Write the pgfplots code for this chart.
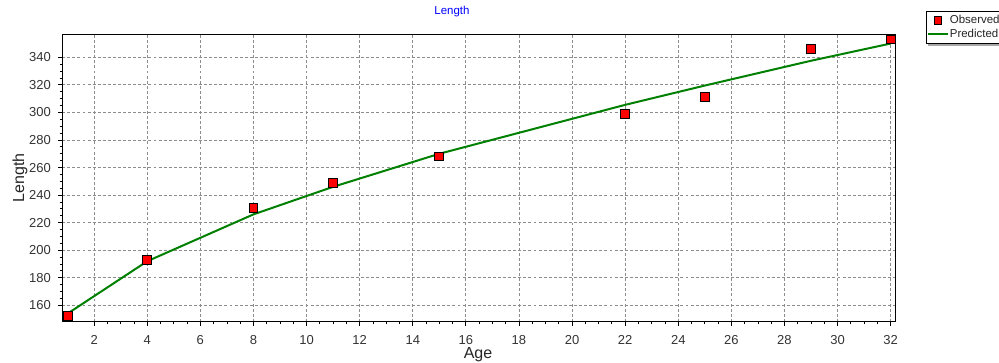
\documentclass[border=0pt]{standalone}
\usepackage{fontspec}
\setmainfont{Liberation Sans}
\usepackage{pgfplots}
\pgfplotsset{compat=1.18}
\usetikzlibrary{backgrounds}
\definecolor{obsred}{HTML}{FF0000}
\definecolor{predgreen}{HTML}{008000}
\begin{document}
\begin{tikzpicture}
\path[use as bounding box] (-46.725pt,-30.225pt) rectangle ++(749.25pt,271.5pt);
\begin{axis}[
  at={(0,0)}, anchor=south west,
  scale only axis, width=625.05pt, height=215.55pt,
  xmin=0.8, xmax=32.19, ymin=148.1, ymax=356.7,
  xtick={2,4,...,32}, ytick={160,180,...,340},
  minor x tick num=3, minor y tick num=3,
  xtick pos=bottom, ytick pos=left,
  tick align=outside,
  major tick length=3pt, minor tick length=1.8pt,
  every tick/.style={black, line width=0.6pt},
  axis line style={black, line width=1.1pt},
  grid=major,
  major grid style={gray!90, dashed, line width=0.6pt, dash pattern=on 2.2pt off 1.6pt},
  /pgf/number format/assume math mode=true,
  tick label style={font=\fontsize{9.75}{11}\selectfont, text=black!80},
  xticklabel style={yshift=-4pt},
  yticklabel style={xshift=-2pt},
  title={Length},
  title style={at={(axis description cs:0.4676,1.0498)}, anchor=center, font=\fontsize{8.6}{10}\selectfont, text=blue},
  xlabel={Age},
  ylabel={Length},
  every axis x label/.style={at={(axis description cs:0.4988,-0.116)}, anchor=center, font=\fontsize{12}{14}\selectfont, text=black!85},
  every axis y label/.style={at={(axis description cs:-0.0508,0.5)}, rotate=90, anchor=center, font=\fontsize{12}{14}\selectfont, text=black!85},
  legend style={name=leg, at={(axis description cs:1.0365,1.081)}, anchor=north west,
    draw=black, fill=white, line width=0.6pt,
    font=\fontsize{8.6}{10}\selectfont, text=black!85,
    row sep=-1.5pt, inner xsep=0.5pt, inner ysep=1pt,
    nodes={inner xsep=1pt}},
  legend cell align=left,
  legend image post style={scale=0.85},
]
\addplot[only marks, mark=square*, mark size=3.3pt, mark options={fill=obsred, draw=black, line width=0.7pt}]
  coordinates {(1,152) (4,193) (8,230.5) (11,249) (15,268) (22,299) (25,311) (29,346) (32,353)};
\addlegendentry{Observed}
\addplot[predgreen, line width=1.5pt, mark=none]
  coordinates {(1,154) (4,192) (8,226) (11,246) (15,270) (22,305.5) (25,319.5) (29,337.5) (32,350)};
\addlegendentry{Predicted}
\end{axis}
\begin{pgfonlayer}{background}
\fill[gray!70] ([shift={(1.5pt,-1.5pt)}]leg.north west) rectangle ([shift={(1.5pt,-1.5pt)}]leg.south east);
\end{pgfonlayer}
\end{tikzpicture}
\end{document}
